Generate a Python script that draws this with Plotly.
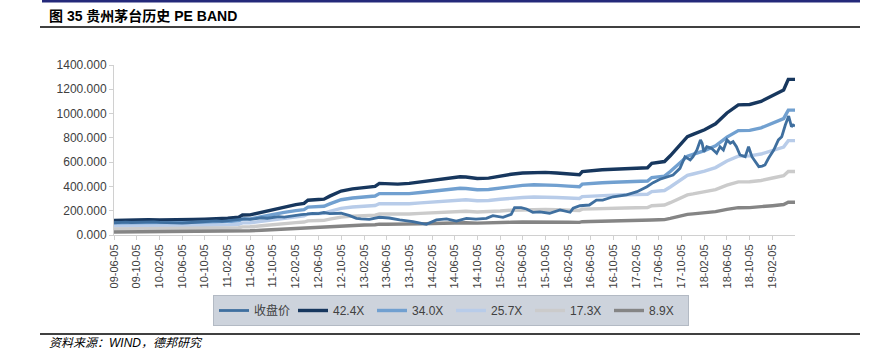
import plotly.graph_objects as go

# ---------------- data ----------------
band_dates = [
    "2009-06-05", "2009-08-05", "2009-10-05", "2009-12-05", "2010-02-05", "2010-04-05",
    "2010-06-05", "2010-08-05", "2010-10-05", "2010-12-05", "2011-02-05", "2011-04-05",
    "2011-04-25", "2011-06-05", "2011-08-05", "2011-10-05", "2011-12-05", "2012-02-05",
    "2012-03-20", "2012-04-10", "2012-06-05", "2012-07-05", "2012-08-05", "2012-10-05",
    "2012-12-05", "2013-02-05", "2013-04-05", "2013-04-28", "2013-06-05", "2013-08-05",
    "2013-10-05", "2013-12-05", "2014-02-05", "2014-04-05", "2014-06-05", "2014-07-05",
    "2014-08-05", "2014-10-05", "2014-12-05", "2015-02-05", "2015-04-05", "2015-06-05",
    "2015-08-05", "2015-10-05", "2015-12-05", "2016-02-05", "2016-04-05", "2016-04-20",
    "2016-06-05", "2016-08-05", "2016-10-05", "2016-12-05", "2017-02-05", "2017-04-05",
    "2017-04-28", "2017-06-05", "2017-07-05", "2017-08-05", "2017-10-05", "2017-11-05",
    "2017-12-05", "2018-02-05", "2018-04-05", "2018-06-05", "2018-08-05", "2018-10-05",
    "2018-12-05", "2019-02-05", "2019-04-05", "2019-04-30", "2019-06-05",
]
pe_42_4 = [
    120, 123, 125, 125, 124, 123, 124, 128, 130, 133, 138, 146,
    165, 166, 187, 212, 232, 250, 261, 286, 292, 295, 320, 362,
    380, 390, 400, 425, 424, 419, 425, 437, 450, 462, 475, 480,
    478, 465, 468, 485, 500, 510, 516, 516, 510, 502, 496, 522,
    530, 537, 542, 546, 550, 554, 590, 598, 605, 652, 762, 810,
    829, 867, 916, 1005, 1072, 1075, 1100, 1150, 1195, 1282, 1282,
]
pe_34_0 = [
    96.2, 98.6, 100.2, 100.2, 99.4, 98.6, 99.4, 102.6, 104.2, 106.7, 110.7, 117.1,
    132.3, 133.1, 150.0, 170.0, 186.0, 200.5, 209.3, 229.3, 234.2, 236.6, 256.6, 290.3,
    304.7, 312.7, 320.8, 340.8, 340.0, 336.0, 340.8, 350.4, 360.9, 370.5, 380.9, 384.9,
    383.3, 372.9, 375.3, 388.9, 401.0, 409.0, 413.8, 413.8, 409.0, 402.6, 397.7, 418.6,
    425.0, 430.6, 434.6, 437.8, 441.0, 444.3, 473.1, 479.5, 485.1, 522.8, 611.1, 649.5,
    664.8, 695.2, 734.5, 805.9, 859.6, 862.0, 882.1, 922.2, 958.3, 1028.0, 1028.0,
]
pe_25_7 = [
    72.7, 74.5, 75.8, 75.8, 75.2, 74.5, 75.2, 77.6, 78.8, 80.6, 83.6, 88.5,
    100.0, 100.6, 113.3, 128.5, 140.6, 151.5, 158.2, 173.3, 177.0, 178.8, 194.0, 219.4,
    230.3, 236.4, 242.4, 257.6, 257.0, 254.0, 257.6, 264.9, 272.7, 280.0, 287.9, 290.9,
    289.7, 281.8, 283.7, 294.0, 303.1, 309.1, 312.7, 312.7, 309.1, 304.3, 300.6, 316.4,
    321.2, 325.5, 328.5, 330.9, 333.4, 335.8, 357.6, 362.4, 366.7, 395.2, 461.9, 490.9,
    502.5, 525.5, 555.2, 609.1, 649.7, 651.6, 666.7, 697.0, 724.3, 777.0, 777.0,
]
pe_17_3 = [
    49.0, 50.2, 51.0, 51.0, 50.6, 50.2, 50.6, 52.2, 53.0, 54.3, 56.3, 59.6,
    67.3, 67.7, 76.3, 86.5, 94.7, 102.0, 106.5, 116.7, 119.1, 120.4, 130.6, 147.7,
    155.0, 159.1, 163.2, 173.4, 173.0, 171.0, 173.4, 178.3, 183.6, 188.5, 193.8, 195.8,
    195.0, 189.7, 190.9, 197.9, 204.0, 208.1, 210.5, 210.5, 208.1, 204.8, 202.4, 213.0,
    216.2, 219.1, 221.1, 222.8, 224.4, 226.0, 240.7, 244.0, 246.8, 266.0, 310.9, 330.5,
    338.2, 353.7, 373.7, 410.0, 437.4, 438.6, 448.8, 469.2, 487.6, 523.1, 523.1,
]
pe_8_9 = [
    25.2, 25.8, 26.2, 26.2, 26.0, 25.8, 26.0, 26.9, 27.3, 27.9, 29.0, 30.6,
    34.6, 34.8, 39.3, 44.5, 48.7, 52.5, 54.8, 60.0, 61.3, 61.9, 67.2, 76.0,
    79.8, 81.9, 84.0, 89.2, 89.0, 87.9, 89.2, 91.7, 94.5, 97.0, 99.7, 100.8,
    100.3, 97.6, 98.2, 101.8, 105.0, 107.0, 108.3, 108.3, 107.0, 105.4, 104.1, 109.6,
    111.2, 112.7, 113.8, 114.6, 115.4, 116.3, 123.8, 125.5, 127.0, 136.9, 159.9, 170.0,
    174.0, 182.0, 192.3, 211.0, 225.0, 225.6, 230.9, 241.4, 250.8, 269.1, 269.1,
]

price_dates = [
    "2009-06-05", "2009-07-05", "2009-08-05", "2009-09-05", "2009-10-05", "2009-11-05",
    "2009-12-05", "2010-01-05", "2010-02-05", "2010-03-05", "2010-04-05", "2010-05-05",
    "2010-06-05", "2010-07-05", "2010-08-05", "2010-09-05", "2010-10-05", "2010-11-05",
    "2010-12-05", "2011-01-05", "2011-02-05", "2011-03-05", "2011-04-05", "2011-05-05",
    "2011-06-05", "2011-07-05", "2011-08-05", "2011-09-05", "2011-10-05", "2011-11-05",
    "2011-12-05", "2012-01-05", "2012-02-05", "2012-03-05", "2012-04-05", "2012-05-05",
    "2012-06-05", "2012-07-05", "2012-08-05", "2012-09-05", "2012-10-05", "2012-11-20",
    "2012-12-26", "2013-01-20", "2013-03-05", "2013-04-28", "2013-06-20", "2013-08-15",
    "2013-10-25", "2014-01-05", "2014-02-28", "2014-04-23", "2014-06-15", "2014-08-08",
    "2014-09-28", "2014-11-23", "2014-12-28", "2015-02-20", "2015-04-05", "2015-04-23",
    "2015-05-28", "2015-06-26", "2015-07-30", "2015-09-05", "2015-10-28", "2015-12-23",
    "2016-02-15", "2016-03-02", "2016-04-08", "2016-05-28", "2016-07-05", "2016-08-08",
    "2016-10-02", "2016-12-14", "2017-02-08", "2017-04-02", "2017-05-05", "2017-06-11",
    "2017-07-17", "2017-08-20", "2017-09-26", "2017-10-23", "2017-11-20", "2017-12-05",
    "2017-12-26", "2018-01-14", "2018-01-23", "2018-02-01", "2018-02-17", "2018-03-14",
    "2018-04-11", "2018-04-29", "2018-05-17", "2018-06-05", "2018-06-23", "2018-07-08",
    "2018-07-26", "2018-08-14", "2018-09-11", "2018-09-29", "2018-10-17", "2018-11-05",
    "2018-11-23", "2018-12-11", "2018-12-26", "2019-01-14", "2019-02-11", "2019-03-08",
    "2019-03-26", "2019-04-14", "2019-05-02", "2019-05-17", "2019-05-26", "2019-06-05",
]
price_close = [
    100, 104, 106, 103, 105, 108,
    110, 108, 104, 102, 99, 96,
    97, 101, 104, 107, 112, 118,
    116, 113, 117, 120, 126, 132,
    128, 136, 142, 138, 146, 152,
    148, 156, 164, 168, 172, 178,
    176, 185, 176, 180, 179, 159,
    137, 132, 129, 146, 140, 124,
    110, 88, 124, 132, 115, 137,
    130, 137, 159, 146, 170, 225,
    225, 214, 187, 190, 179, 206,
    187, 220, 241, 247, 288, 288,
    315, 330, 357, 398, 431, 459,
    475, 494, 549, 645, 618, 645,
    700, 783, 755, 686, 727, 714,
    673, 727, 700, 783, 755, 769,
    727, 659, 645, 727, 645, 604,
    563, 568, 577, 632, 700, 783,
    810, 906, 980, 892, 906, 898,
]

tick_vals = [
    "2009-06-05", "2009-10-05", "2010-02-05", "2010-06-05", "2010-10-05", "2011-02-05",
    "2011-06-05", "2011-10-05", "2012-02-05", "2012-06-05", "2012-10-05", "2013-02-05",
    "2013-06-05", "2013-10-05", "2014-02-05", "2014-06-05", "2014-10-05", "2015-02-05",
    "2015-06-05", "2015-10-05", "2016-02-05", "2016-06-05", "2016-10-05", "2017-02-05",
    "2017-06-05", "2017-10-05", "2018-02-05", "2018-06-05", "2018-10-05", "2019-02-05",
]
tick_text = [
    "09-06-05", "09-10-05", "10-02-05", "10-06-05", "10-10-05", "11-02-05",
    "11-06-05", "11-10-05", "12-02-05", "12-06-05", "12-10-05", "13-02-05",
    "13-06-05", "13-10-05", "14-02-05", "14-06-05", "14-10-05", "15-02-05",
    "15-06-05", "15-10-05", "16-02-05", "16-06-05", "16-10-05", "17-02-05",
    "17-06-05", "17-10-05", "18-02-05", "18-06-05", "18-10-05", "19-02-05",
]
y_ticks = [0, 200, 400, 600, 800, 1000, 1200, 1400]

series_names = ["收盘价", "42.4X", "34.0X", "25.7X", "17.3X", "8.9X"]
series_colors = ["#3f6f9f", "#17375e", "#71a0d0", "#b8cce9", "#cbcbcb", "#858585"]

# ---------------- layout geometry ----------------
W, H = 883, 355
L, R, T, B = 114, 88, 65, 120
PW = W - L - R
PH = H - T - B


def px(x):
    return (x - L) / PW


def py(y):
    return (H - B - y) / PH


FONT = "Liberation Sans, Arial, Noto Sans CJK SC, sans-serif"

fig = go.Figure()

bands = [pe_42_4, pe_34_0, pe_25_7, pe_17_3, pe_8_9]
for i, vals in enumerate(bands):
    fig.add_trace(go.Scatter(
        x=band_dates, y=vals, mode="lines", name=series_names[i + 1],
        line=dict(color=series_colors[i + 1], width=3.4),
        legendrank=i + 2,
    ))

fig.add_trace(go.Scatter(
    x=price_dates, y=price_close, mode="lines", name=series_names[0],
    line=dict(color=series_colors[0], width=2.8),
    legendrank=1,
))

shapes = [
    dict(type="rect", xref="paper", yref="paper", x0=px(42), x1=px(860), y0=py(0), y1=py(2.5),
         fillcolor="#24297a", line=dict(width=0), layer="above"),
    dict(type="line", xref="paper", yref="paper", x0=px(40), x1=px(860), y0=py(27), y1=py(27),
         line=dict(color="#000000", width=1.6)),
    dict(type="line", xref="paper", yref="paper", x0=px(40), x1=px(860), y0=py(334), y1=py(334),
         line=dict(color="#000000", width=1.6)),
]

annotations = [
    dict(text="<b>图 35 贵州茅台历史 PE BAND</b>", xref="paper", yref="paper",
         x=px(47), y=py(16), xanchor="left", yanchor="middle", showarrow=False,
         font=dict(family="Liberation Sans, Noto Sans CJK SC, sans-serif", size=14, color="#000000")),
    dict(text="<i>资料来源：WIND，德邦研究</i>", xref="paper", yref="paper",
         x=px(47), y=py(343), xanchor="left", yanchor="middle", showarrow=False,
         font=dict(family="Liberation Sans, Noto Sans CJK SC, sans-serif", size=12, color="#000000")),
]

fig.update_layout(
    width=W, height=H,
    margin=dict(l=L, r=R, t=T, b=B, pad=0),
    paper_bgcolor="white", plot_bgcolor="white",
    font=dict(family=FONT, size=12, color="#404040"),
    showlegend=True,
    legend=dict(
        orientation="h", x=px(213), y=py(295), xanchor="left", yanchor="top",
        bgcolor="#cdd3dc", bordercolor="#b3bac4", borderwidth=1,
        font=dict(family=FONT, size=12, color="#404040"),
        entrywidth=34, entrywidthmode="pixels",
        itemwidth=30, tracegroupgap=0,
    ),
    xaxis=dict(
        type="date", range=["2009-06-05", "2019-06-05"],
        tickmode="array", tickvals=tick_vals, ticktext=tick_text,
        tickangle=-90, tickfont=dict(size=11, color="#404040"),
        showgrid=False, zeroline=False,
        showline=True, linecolor="#d0d0d0", linewidth=1,
        ticks="outside", ticklen=4, tickcolor="#d0d0d0",
    ),
    yaxis=dict(
        range=[0, 1400], tickmode="array", tickvals=y_ticks,
        tickformat=".3f", tickfont=dict(size=12, color="#404040"),
        showgrid=False, zeroline=False,
        showline=True, linecolor="#d0d0d0", linewidth=1,
        ticks="outside", ticklen=4, tickcolor="#d0d0d0",
    ),
    shapes=shapes,
    annotations=annotations,
)

fig.write_html(
    "out.html",
    config={"displayModeBar": False},
    post_script="document.body.style.margin='0';document.body.style.overflow='hidden';",
)
